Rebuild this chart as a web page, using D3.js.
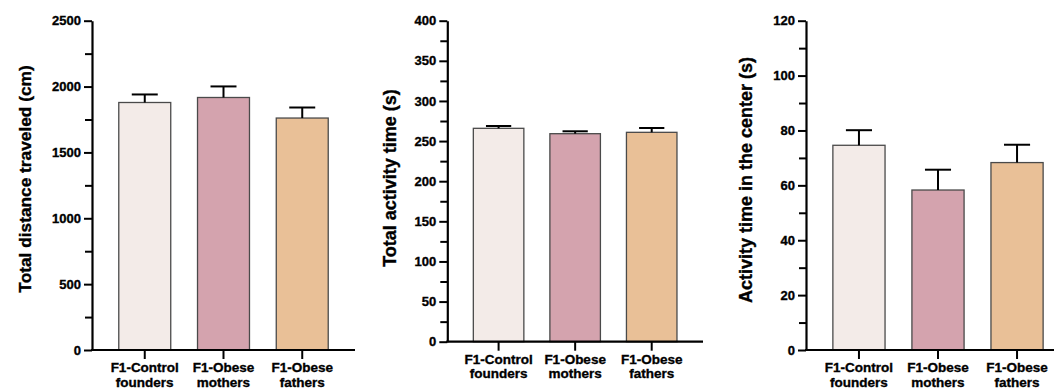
<!DOCTYPE html>
<html><head><meta charset="utf-8">
<script src="https://cdn.jsdelivr.net/npm/d3@7"></script>
<style>body{margin:0;background:#fff;} svg{display:block;font-family:"Liberation Sans",Arial,sans-serif;} svg text{stroke:#000;stroke-width:0.35px;fill:#000;}</style>
</head><body>
<svg id="chart" width="1054" height="389"></svg>
<script>
const categoryLine1 = ["F1-Control", "F1-Obese", "F1-Obese"];
const categoryLine2 = ["founders", "mothers", "fathers"];
const barColors = ["#f3ebe8", "#d4a3ae", "#e9c097"];

const distanceMeans = [1879, 1917, 1761];
const distanceErr = [61, 84, 80];
const distanceTicks = [0, 500, 1000, 1500, 2000, 2500];
const distanceMinor = [250, 750, 1250, 1750, 2250];

const activityMeans = [265.9, 259.2, 260.9];
const activityErr = [2.9, 3.0, 5.4];
const activityTicks = [0, 50, 100, 150, 200, 250, 300, 350, 400];
const activityMinor = [25, 75, 125, 175, 225, 275, 325, 375];

const centerMeans = [74.6, 58.3, 68.3];
const centerErr = [5.5, 7.4, 6.5];
const centerTicks = [0, 20, 40, 60, 80, 100, 120];
const centerMinor = [10, 30, 50, 70, 90, 110];

const svg = d3.select("#chart");

function panel(cfg) {
  const g = svg.append("g");
  const x = d3.scaleBand().domain(d3.range(3)).range([cfg.x0, cfg.x1]).padding(0.34);
  const y = d3.scaleLinear().domain([0, cfg.max]).range([cfg.yBottom, cfg.yTop]);

  g.selectAll("rect.bar").data(cfg.means).join("rect")
    .attr("x", (d, i) => x(i)).attr("width", x.bandwidth())
    .attr("y", d => y(d)).attr("height", d => y(0) - y(d))
    .attr("fill", (d, i) => barColors[i])
    .attr("stroke", "#4a4a4a").attr("stroke-width", 1.3);

  const eb = g.selectAll("g.err").data(cfg.means).join("g");
  eb.append("line")
    .attr("x1", (d, i) => x(i) + x.bandwidth() / 2).attr("x2", (d, i) => x(i) + x.bandwidth() / 2)
    .attr("y1", d => y(d)).attr("y2", (d, i) => y(d + cfg.err[i]))
    .attr("stroke", "#000").attr("stroke-width", 2);
  eb.append("line")
    .attr("x1", (d, i) => x(i) + x.bandwidth() / 4).attr("x2", (d, i) => x(i) + x.bandwidth() * 3 / 4)
    .attr("y1", (d, i) => y(d + cfg.err[i])).attr("y2", (d, i) => y(d + cfg.err[i]))
    .attr("stroke", "#000").attr("stroke-width", 2);

  const ya = g.append("g").attr("transform", `translate(${cfg.x0},0)`)
    .call(d3.axisLeft(y).tickValues(cfg.ticks).tickSize(8).tickPadding(3).tickSizeOuter(0).tickFormat(d3.format("d")));
  const ym = g.append("g").attr("transform", `translate(${cfg.x0},0)`)
    .call(d3.axisLeft(y).tickValues(cfg.minor).tickSize(7).tickFormat("").tickSizeOuter(0));
  ym.select(".domain").remove();
  [ya, ym].forEach(a => {
    a.selectAll("line").attr("stroke", "#000").attr("stroke-width", 2);
    a.select(".domain").attr("stroke", "#000").attr("stroke-width", 2.2);
  });
  ya.attr("font-size", 13).attr("font-weight", "bold").attr("font-family", "Liberation Sans, Arial, sans-serif");
  ya.selectAll("text").attr("fill", "#000");

  const xa = g.append("g").attr("transform", `translate(0,${cfg.yBottom})`)
    .call(d3.axisBottom(x).tickSize(9).tickSizeOuter(0).tickFormat(""));
  xa.selectAll("line").attr("stroke", "#000").attr("stroke-width", 2);
  xa.select(".domain").attr("stroke", "#000").attr("stroke-width", 2.2)
    .attr("d", `M${cfg.x0 - 1},0H${cfg.x1}`);

  const lab = g.selectAll("text.cat").data(categoryLine1).join("text")
    .attr("class", "cat")
    .attr("text-anchor", "middle")
    .attr("font-size", 13.5).attr("font-weight", "bold")
    .attr("x", (d, i) => x(i) + x.bandwidth() / 2)
    .attr("y", cfg.yBottom + 22);
  lab.append("tspan").text(d => d);
  lab.append("tspan").attr("x", (d, i) => x(i) + x.bandwidth() / 2).attr("dy", 14.5)
    .text((d, i) => categoryLine2[i]);

  g.append("text")
    .attr("transform", `translate(${cfg.titleX},${cfg.titleY}) rotate(-90)`)
    .attr("text-anchor", "middle")
    .attr("font-size", cfg.titleSize).attr("font-weight", "bold")
    .text(cfg.title);
}

panel({x0: 92, x1: 355, yBottom: 350, yTop: 20.7, max: 2500, means: distanceMeans, err: distanceErr,
  ticks: distanceTicks, minor: distanceMinor, title: "Total distance traveled (cm)", titleX: 31, titleY: 179, titleSize: 17.3});
panel({x0: 447.3, x1: 703, yBottom: 341.7, yTop: 20.7, max: 400, means: activityMeans, err: activityErr,
  ticks: activityTicks, minor: activityMinor, title: "Total activity time (s)", titleX: 396, titleY: 178, titleSize: 18});
panel({x0: 806, x1: 1070, yBottom: 350, yTop: 20.7, max: 120, means: centerMeans, err: centerErr,
  ticks: centerTicks, minor: centerMinor, title: "Activity time in the center (s)", titleX: 752, titleY: 180, titleSize: 18});
</script>
</body></html>
